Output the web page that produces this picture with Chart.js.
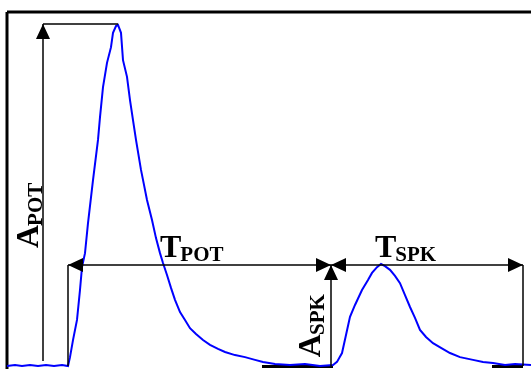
<!DOCTYPE html>
<html><head><meta charset="utf-8">
<script src="https://cdn.jsdelivr.net/npm/chart.js@4.4.1/dist/chart.umd.min.js"></script>
<style>html,body{margin:0;padding:0;background:#fff}#wrap{width:531px;height:369px}</style>
</head><body><div id="wrap"><canvas id="c" width="531" height="369"></canvas></div>
<script>
// ─── DATA (samples, amplitude % of action potential peak) ─────
const T=[0,8,15,23,31,39,47,55,61,63,66,70,73,75,78,81,86,91,93,96,100,104,106,109,111,114,116,120,123,126,129,134,137,140,145,149,153,156,160,164,168,173,178,183,189,196,203,211,218,228,238,248,256,268,283,298,313,326,
  330,335,339,343,348,355,361,365,370,374,378,383,388,393,398,403,408,413,419,426,434,443,453,466,476,486,498,508,524];
const AMP=[0,0.3,0,0.3,0,0.3,0,0.3,0,2.6,7.6,13.5,22.3,29.0,33.1,41.9,54.5,66.3,73.0,81.8,88.9,93.5,97.7,99.7,100,97.7,89.7,84.8,78.0,72.1,66.3,57.5,53.1,48.7,42.8,37.5,33.1,30.2,26.7,22.9,19.4,15.8,13.5,11.1,9.4,7.6,6.2,5.0,4.1,3.2,2.6,1.8,1.2,0.6,0.3,0.6,0,0.3,
  1.2,3.8,9.1,14.4,17.9,22.3,25.2,27.3,29.0,29.9,29.3,28.2,26.4,24.3,20.8,17.3,14.1,10.6,8.5,6.7,5.3,3.8,2.6,1.8,1.2,0.9,0.3,0.6,0.3];

// annotation anchors (same units)
const POT_START=61,POT_PEAK_T=111,SPK_START=324,SPK_END=516,A_POT_T=36;
const POT_TOP=100.3,T_LEVEL=29.6,FRAME_TOP=103.8;
const REST_MARKS=[[255,326],[485,516]];

// ─── ANNOTATION PLUGIN ───────────────────────────────────────
const SERIF='"Liberation Serif","Times New Roman",serif';
function arrow(ctx,x,y,dir){// tip at x,y ; dir: 'l','r','u'
  const L=15,W=7;ctx.beginPath();ctx.moveTo(x,y);
  if(dir==='l'){ctx.lineTo(x+L,y-W);ctx.lineTo(x+L,y+W)}
  else if(dir==='r'){ctx.lineTo(x-L,y-W);ctx.lineTo(x-L,y+W)}
  else{ctx.lineTo(x-W,y+L);ctx.lineTo(x+W,y+L)}
  ctx.closePath();ctx.fill()}
function seg(ctx,x1,y1,x2,y2){ctx.beginPath();ctx.moveTo(x1,y1);ctx.lineTo(x2,y2);ctx.stroke()}
function label(ctx,x,y,main,sub,rot){
  ctx.save();ctx.translate(x,y);if(rot)ctx.rotate(-Math.PI/2);
  ctx.textBaseline='alphabetic';ctx.textAlign='left';ctx.fillStyle='#000';
  ctx.font='bold 32px '+SERIF;ctx.fillText(main,0,0);const w=ctx.measureText(main).width;
  ctx.font='bold 21px '+SERIF;ctx.fillText(sub,w-1,4);ctx.restore()}

Chart.register({id:'apAnnot',
  beforeDatasetsDraw(chart){
    const{ctx,scales:{x,y}}=chart;ctx.save();ctx.strokeStyle='#000';ctx.lineWidth=3;
    REST_MARKS.forEach(([a,b])=>seg(ctx,x.getPixelForValue(a),y.getPixelForValue(-0.15),x.getPixelForValue(b),y.getPixelForValue(-0.15)));
    // frame (top + left)
    const fx=x.getPixelForValue(0),fy=y.getPixelForValue(FRAME_TOP);
    seg(ctx,fx,fy,chart.width+2,fy);seg(ctx,fx,fy,fx,chart.height+2);
    ctx.restore()},
  afterDatasetsDraw(chart){
    const{ctx,scales:{x,y}}=chart;ctx.save();
    ctx.strokeStyle='#000';ctx.fillStyle='#000';ctx.lineWidth=1.5;
    const y0=y.getPixelForValue(0),yT=y.getPixelForValue(T_LEVEL),yP=y.getPixelForValue(POT_TOP);
    const xa=x.getPixelForValue(A_POT_T),xs=x.getPixelForValue(POT_START),xm=x.getPixelForValue(SPK_START),xe=x.getPixelForValue(SPK_END);
    // A_POT
    seg(ctx,xa,y.getPixelForValue(1.5),xa,yP);seg(ctx,xa,yP,x.getPixelForValue(POT_PEAK_T),yP);arrow(ctx,xa,yP,'u');
    // T_POT / T_SPK
    seg(ctx,xs,y0,xs,yT);seg(ctx,xs,yT,xe,yT);seg(ctx,xe,yT,xe,y0);
    arrow(ctx,xs,yT,'l');arrow(ctx,xm,yT,'r');arrow(ctx,xm,yT,'l');arrow(ctx,xe,yT,'r');
    // A_SPK
    seg(ctx,xm,y0,xm,yT);arrow(ctx,xm,yT,'u');
    label(ctx,x.getPixelForValue(153),y.getPixelForValue(32),'T','POT');
    label(ctx,x.getPixelForValue(368),y.getPixelForValue(32),'T','SPK');
    label(ctx,x.getPixelForValue(31),y.getPixelForValue(34.6),'A','POT',true);
    label(ctx,x.getPixelForValue(313),y.getPixelForValue(2.6),'A','SPK',true);
    ctx.restore()}
});

new Chart(document.getElementById('c'),{type:'line',
  data:{datasets:[{data:T.map((t,i)=>({x:t,y:AMP[i]})),borderColor:'#0000ff',borderWidth:2,pointRadius:0,tension:0,fill:false}]},
  options:{responsive:false,animation:false,devicePixelRatio:1,layout:{padding:0},
    plugins:{legend:{display:false},tooltip:{enabled:false}},
    scales:{x:{type:'linear',min:-7,max:524,display:false},y:{min:-0.88,max:107.33,display:false}}}
});
</script></body></html>
